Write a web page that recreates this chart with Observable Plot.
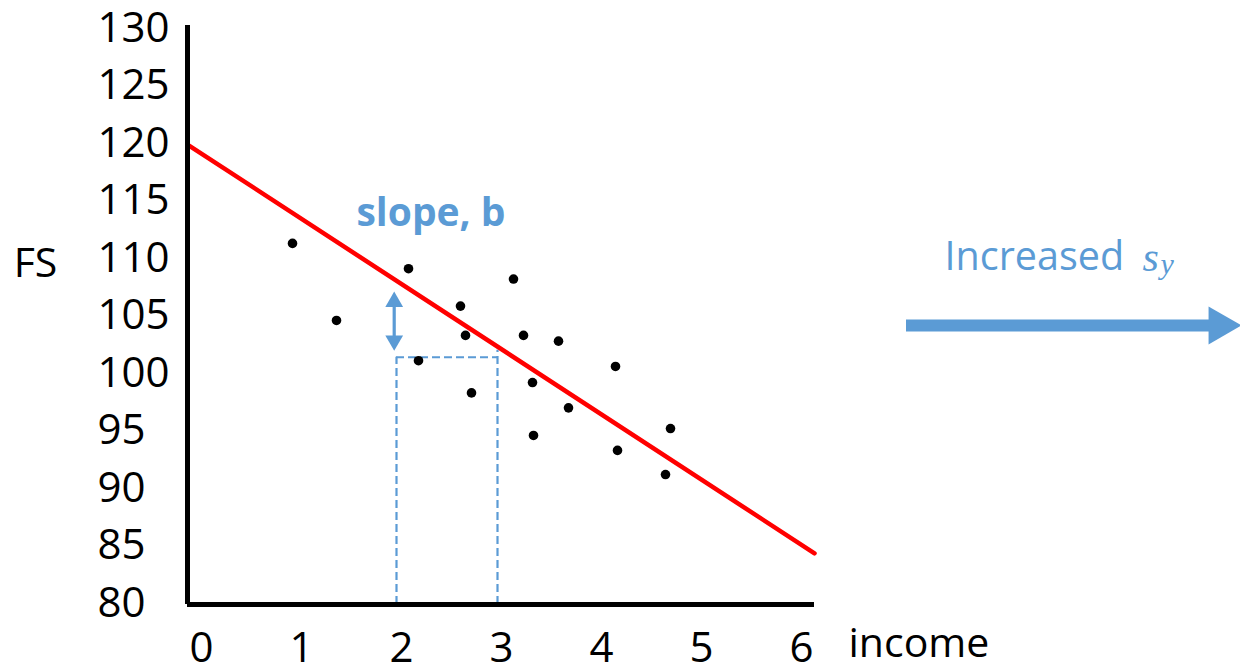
<!DOCTYPE html>
<html><head><meta charset="utf-8">
<script src="https://cdn.jsdelivr.net/npm/d3@7"></script>
<script src="https://cdn.jsdelivr.net/npm/@observablehq/plot@0.6"></script>
<style>body{margin:0;background:#fff;} svg{display:block}</style>
</head><body><div id="chart"></div>
<script>
// ---- data ----
const income = [0.95, 1.39, 2.11, 2.21, 2.63, 2.68, 2.74, 3.16, 3.26, 3.35, 3.36, 3.61, 3.71, 4.18, 4.20, 4.68, 4.73];
const fsScore = [111.3, 104.6, 109.1, 101.1, 105.85, 103.3, 98.3, 108.2, 103.3, 99.2, 94.6, 102.8, 97.0, 100.6, 93.3, 91.2, 95.2];
const xTicks = [0, 1, 2, 3, 4, 5, 6];
const yTicks = [80, 85, 90, 95, 100, 105, 110, 115, 120, 125, 130];
const fitIncome = [-0.1, 6.17];
const fitFS = [119.9, 84.35];
const runIncome = [1.99, 3.0];     // slope triangle run
const runFS = [101.4, 102.0];      // FS level of dashed line, top of right dashed line
const riseFS = [102.0, 107.07];    // double arrow tips
const riseIncome = 1.967;
const xDomain = [-0.1, 6.17];
const yDomain = [79.9, 130.25];

const blue = "#5b9bd5";
const points = income.map((x, i) => ({x, y: fsScore[i]}));
const fit = fitIncome.map((x, i) => ({x, y: fitFS[i]}));

// annotation anchors (in data units)
const arrowY = 104.17;
const heads = [
  {x: riseIncome, y: riseFS[1] - 0.85, rot: 0},
  {x: riseIncome, y: riseFS[0] + 0.85, rot: 180}
];

const chart = Plot.plot({
  width: 1240,
  height: 670,
  marginLeft: 187,
  marginRight: 426,
  marginTop: 25,
  marginBottom: 66,
  style: {fontFamily: "'Open Sans', sans-serif", background: "#fff", color: "#000"},
  x: {domain: xDomain, label: null},
  y: {domain: yDomain, label: null},
  marks: [
    // dashed slope triangle
    Plot.ruleY([runFS[0]], {x1: runIncome[0], x2: runIncome[1], stroke: blue, strokeWidth: 2.2, strokeDasharray: "8,4"}),
    Plot.ruleX([runIncome[0]], {y1: yDomain[0], y2: runFS[0], stroke: blue, strokeWidth: 2.2, strokeDasharray: "8,4"}),
    Plot.ruleX([runIncome[1]], {y1: yDomain[0], y2: runFS[1], stroke: blue, strokeWidth: 2.2, strokeDasharray: "8,4"}),
    // fit line
    Plot.line(fit, {x: "x", y: "y", stroke: "#ff0000", strokeWidth: 4.5}),
    // points
    Plot.dot(points, {x: "x", y: "y", r: 4.8, fill: "#000", stroke: null}),
    // rise double arrow
    Plot.ruleX([riseIncome], {y1: riseFS[0] + 1, y2: riseFS[1] - 1, stroke: blue, strokeWidth: 3.2}),
    Plot.dot(heads, {x: "x", y: "y", symbol: "triangle", r: 6.6, rotate: "rot", fill: blue, stroke: null}),
    // axes lines
    Plot.ruleX([xDomain[0]], {stroke: "#000", strokeWidth: 5}),
    Plot.ruleY([yDomain[0]], {stroke: "#000", strokeWidth: 5}),
    Plot.axisY({ticks: yTicks, tickSize: 0, textAnchor: "start", dx: -81, fontSize: 42, fill: "#000", label: null}),
    Plot.axisX({ticks: xTicks, tickFormat: "d", tickSize: 0, tickPadding: 28, dx: 4, fontSize: 42, fill: "#000", label: null}),
    // axis titles
    Plot.text(["FS"], {x: () => -1.62, y: () => 109.5, text: d => d, fontSize: 41, fill: "#000"}),
    Plot.text(["income"], {x: () => 6.51, y: () => 76.5, text: d => d, textAnchor: "start", fontSize: 41, fill: "#000"}),
    // slope label
    Plot.text(["slope, b"], {x: () => 2.335, y: () => 113.9, text: d => d, fontSize: 39, fontWeight: "bold", fill: blue}),
    // Increased s_y
    Plot.text(["Increased"], {x: () => 7.47, y: () => 110.07, text: d => d, textAnchor: "start", fontSize: 39.5, fill: blue}),
    Plot.text(["s"], {x: () => 9.45, y: () => 110.07, text: d => d, textAnchor: "start", fontSize: 42, fontStyle: "italic", fontFamily: "'Liberation Serif', serif", fill: blue}),
    Plot.text(["y"], {x: () => 9.63, y: () => 110.07, dy: 7, text: d => d, textAnchor: "start", fontSize: 30, fontStyle: "italic", fontFamily: "'Liberation Serif', serif", fill: blue}),
    // big arrow
    Plot.ruleY([arrowY], {x1: 7.09, x2: 10.12, stroke: blue, strokeWidth: 12}),
    Plot.dot([{x: 10.22, y: arrowY}], {x: "x", y: "y", symbol: "triangle", r: 14.1, rotate: 90, fill: blue, stroke: null})
  ]
});
document.getElementById("chart").appendChild(chart);
</script>
</body></html>
